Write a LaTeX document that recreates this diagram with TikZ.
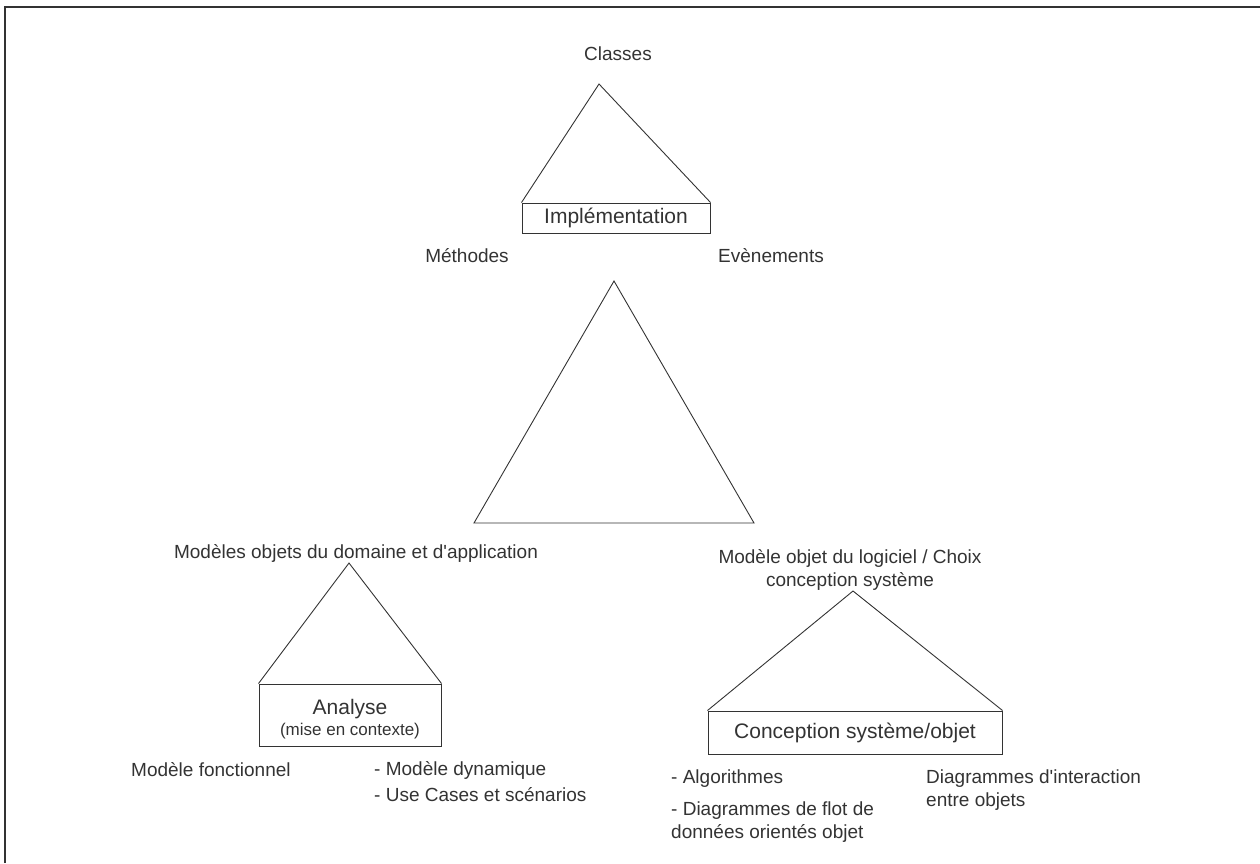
\documentclass[tikz,border=0pt]{standalone}
\usepackage{fontspec}
\setmainfont{Liberation Sans}
\definecolor{ink}{HTML}{333333}
\tikzset{
  lbl/.style={inner sep=0pt, text=ink, font=\fontsize{19}{23}\selectfont},
  tri/.style={draw=ink, line width=0.9pt, line join=miter},
  boxnode/.style={draw=ink, line width=1pt, inner sep=0pt, text=ink, font=\fontsize{21}{24}\selectfont},
}
\begin{document}
\begin{tikzpicture}[x=1pt,y=-1pt]
\useasboundingbox (0,0) rectangle (1260,863);
\draw[ink, line width=2.5pt] (5,863) -- (5,7) -- (1260,7);

% top: Implementation
\node[lbl] (classes) at (618,54) {Classes};
\coordinate (ta) at (599,84);
\node[boxnode, minimum width=188pt, minimum height=30pt] (impl) at (616,218) {Implémentation};
\draw[tri] (impl.north west) -- (ta) -- (impl.north east);
\node[lbl] (meth) at (467,256) {Méthodes};
\node[lbl] (even) at (771,256) {Evènements};

% middle triangle
\coordinate (ma) at (614,281);
\coordinate (ml) at (474,523);
\coordinate (mr) at (754,523);
\draw[tri] (ml) -- (ma) -- (mr) -- cycle;

% left: Analyse
\node[lbl] (mod) at (356,553) {Modèles objets du domaine et d\textquotesingle application};
\coordinate (la) at (349,563);
\node[boxnode, minimum width=182pt, minimum height=62pt] (ana) at (350,715) {};
\node[lbl, font=\fontsize{21}{24}\selectfont] (anat) at (350,709) {Analyse};
\node[lbl, font=\fontsize{17}{20}\selectfont] (anas) at (350,731) {(mise en contexte)};
\draw[tri] (ana.north west) -- (la) -- (ana.north east);
\node[lbl, anchor=west] (fonc) at (131,770) {Modèle fonctionnel};
\node[lbl, anchor=west] (dyn) at (374,770) {- Modèle dynamique};
\node[lbl, anchor=west] (use) at (374,795) {- Use Cases et scénarios};

% right: Conception
\node[lbl, align=center] (mol) at (850,570) {Modèle objet du logiciel / Choix\\conception système};
\coordinate (ra) at (853,591);
\node[boxnode, minimum width=294pt, minimum height=43pt] (conc) at (855,732.5) {Conception système/objet};
\draw[tri] (conc.north west) -- (ra) -- (conc.north east);
\node[lbl, anchor=west] (algo) at (671,779) {- Algorithmes};
\node[lbl, anchor=north west, align=left] (flot) at (671,802) {- Diagrammes de flot de\\données orientés objet};
\node[lbl, anchor=north west, align=left] (inter) at (926,770) {Diagrammes d\textquotesingle interaction\\entre objets};
\end{tikzpicture}
\end{document}
